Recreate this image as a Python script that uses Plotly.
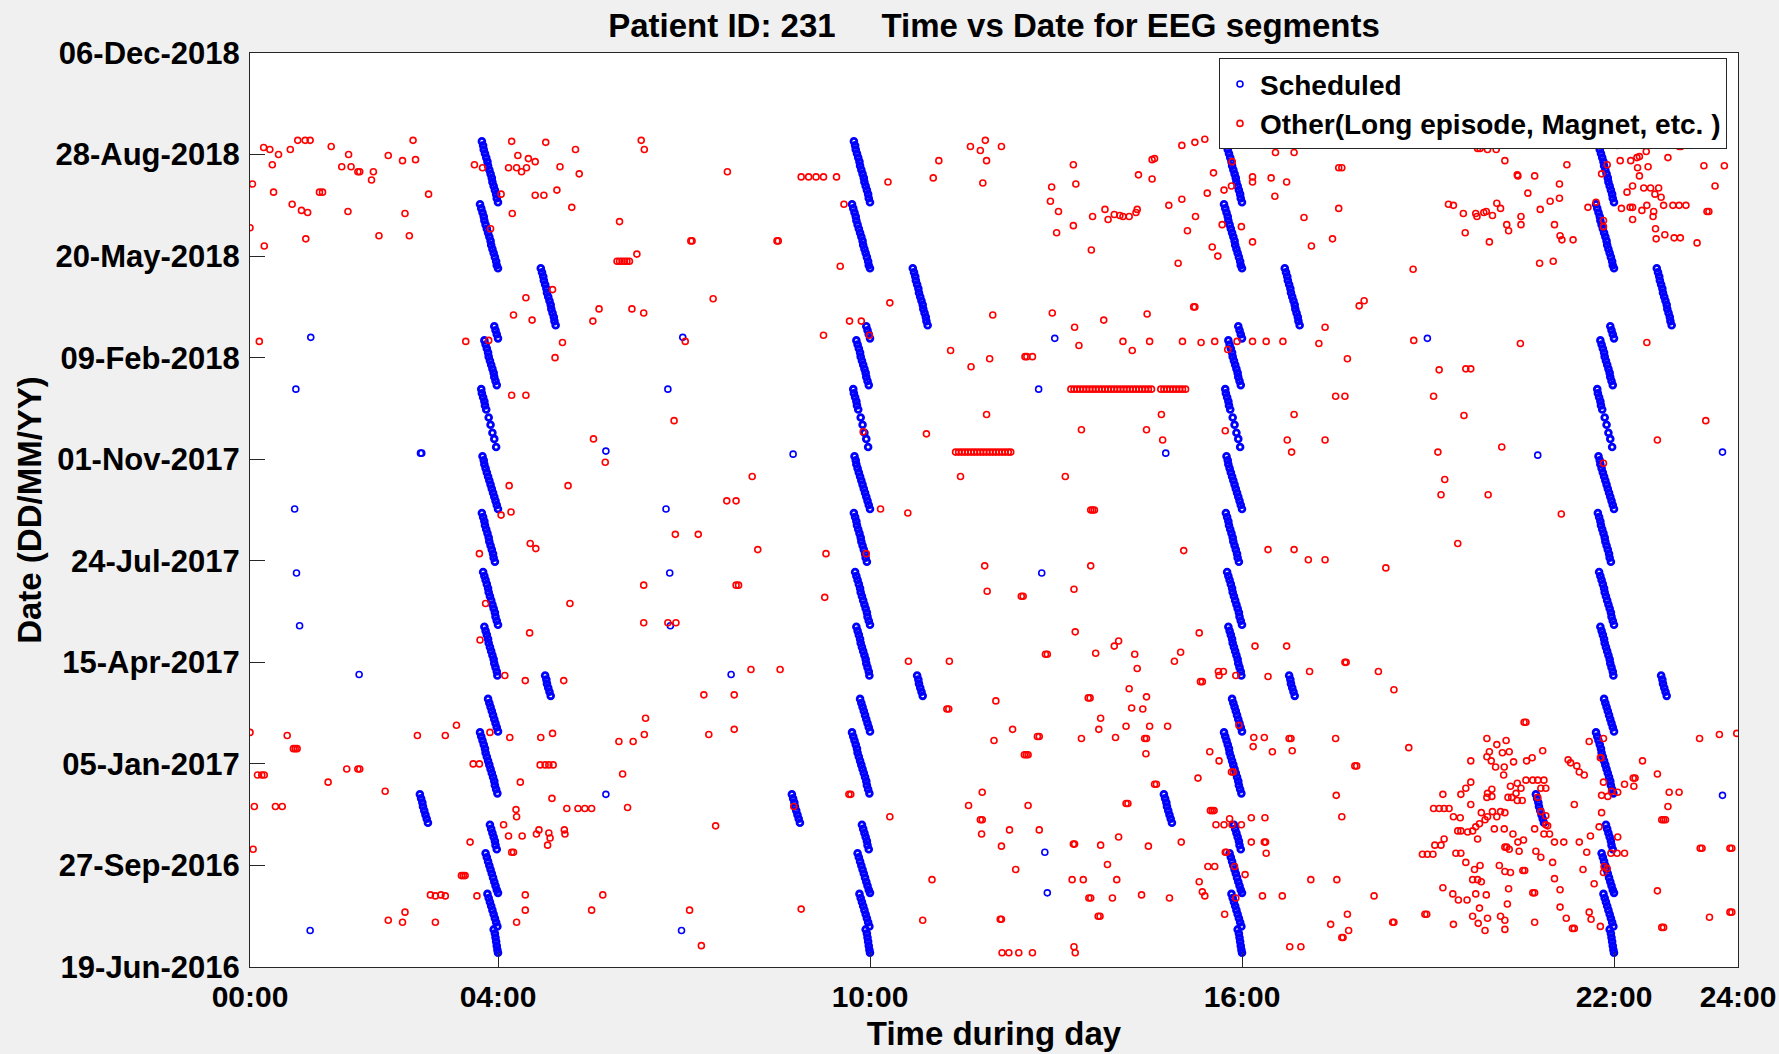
import numpy as np
import plotly.graph_objects as go

START_DATE = np.datetime64("2016-06-19")

# ---------------- Scheduled recordings (days since 19-Jun-2016, time of day in hours) ----------------
sched_day = [
    813, 809, 805, 801, 797, 793, 789, 785, 781, 777, 773, 769, 765, 761, 757, 753,
    751, 747, 743, 739, 735, 731, 727, 723, 719, 715, 711, 707, 703, 699, 695, 691, 688,
    688, 684, 680, 676, 672, 668, 664, 660, 656, 652, 648, 644, 640, 636, 632,
    631, 627, 623, 619,
    617, 613, 609, 605, 601, 597, 593, 589, 585, 581, 577, 573,
    569, 565, 561, 557, 553, 549, 541, 534, 526, 520, 512,
    503, 499, 495, 491, 487, 483, 479, 475, 471, 467, 463, 459, 455, 451,
    447, 443, 439, 435, 431, 427, 423, 419, 415, 411, 407, 403, 399,
    389, 385, 381, 377, 373, 369, 365, 361, 357, 353, 349, 345, 341, 337,
    335, 331, 327, 323, 319, 315, 311, 307, 303, 299, 295, 291, 287,
    287, 283, 279, 275, 271, 267,
    264, 260, 256, 252, 248, 244, 240, 236, 232,
    231, 227, 223, 219, 215, 211, 207, 203, 199, 195, 191, 187, 183, 179, 175, 171,
    170, 166, 162, 158, 154, 150, 146, 142,
    140, 136, 132, 128, 124, 120, 116,
    112, 108, 104, 100, 96, 92, 88, 84, 80, 76, 73,
    72, 68, 64, 60, 56, 52, 48, 44, 40,
    37, 33, 29, 25, 21, 17, 14,
]

sched_time_04 = [
    3.74, 3.76, 3.77, 3.79, 3.81, 3.83, 3.84, 3.86, 3.88, 3.90, 3.91, 3.93, 3.95, 3.97, 3.98, 4.00,
    3.71, 3.73, 3.75, 3.77, 3.78, 3.80, 3.82, 3.84, 3.86, 3.88, 3.89, 3.91, 3.93, 3.95, 3.97, 3.98, 4.00,
    4.69, 4.71, 4.73, 4.74, 4.76, 4.78, 4.79, 4.81, 4.83, 4.85, 4.86, 4.88, 4.90, 4.91, 4.93,
    3.94, 3.96, 3.98, 4.00,
    3.78, 3.80, 3.82, 3.84, 3.85, 3.87, 3.89, 3.91, 3.93, 3.94, 3.96, 3.98,
    3.73, 3.74, 3.76, 3.78, 3.79, 3.81, 3.85, 3.88, 3.91, 3.94, 3.97,
    3.75, 3.77, 3.78, 3.80, 3.82, 3.84, 3.86, 3.88, 3.90, 3.92, 3.94, 3.96, 3.98, 4.00,
    3.74, 3.76, 3.78, 3.79, 3.81, 3.83, 3.85, 3.86, 3.88, 3.90, 3.92, 3.93, 3.95,
    3.76, 3.78, 3.80, 3.82, 3.84, 3.85, 3.87, 3.89, 3.91, 3.93, 3.95, 3.96, 3.98, 4.00,
    3.78, 3.80, 3.82, 3.84, 3.85, 3.87, 3.89, 3.91, 3.93, 3.94, 3.96, 3.98, 3.99,
    4.76, 4.78, 4.79, 4.81, 4.83, 4.85,
    3.84, 3.86, 3.88, 3.90, 3.92, 3.94, 3.96, 3.98, 4.00,
    3.71, 3.73, 3.75, 3.77, 3.79, 3.80, 3.82, 3.84, 3.86, 3.88, 3.90, 3.92, 3.94, 3.95, 3.97, 3.99,
    2.74, 2.76, 2.78, 2.79, 2.81, 2.83, 2.85, 2.87,
    3.87, 3.89, 3.91, 3.93, 3.95, 3.96, 3.98,
    3.80, 3.82, 3.84, 3.86, 3.88, 3.90, 3.92, 3.94, 3.96, 3.98, 4.00,
    3.83, 3.85, 3.87, 3.89, 3.91, 3.93, 3.95, 3.97, 3.99,
    3.93, 3.95, 3.96, 3.97, 3.98, 3.99, 4.00,
]

sched_time_10 = [
    9.74, 9.76, 9.77, 9.79, 9.81, 9.83, 9.84, 9.86, 9.88, 9.90, 9.91, 9.93, 9.95, 9.97, 9.98, 10.00,
    9.71, 9.73, 9.75, 9.77, 9.78, 9.80, 9.82, 9.84, 9.86, 9.88, 9.89, 9.91, 9.93, 9.95, 9.97, 9.98, 10.00,
    10.69, 10.71, 10.73, 10.74, 10.76, 10.78, 10.79, 10.81, 10.83, 10.85, 10.86, 10.88, 10.90, 10.91, 10.93,
    9.94, 9.96, 9.98, 10.00,
    9.78, 9.80, 9.82, 9.84, 9.85, 9.87, 9.89, 9.91, 9.93, 9.94, 9.96, 9.98,
    9.73, 9.74, 9.76, 9.78, 9.79, 9.81, 9.85, 9.88, 9.91, 9.94, 9.97,
    9.75, 9.77, 9.78, 9.80, 9.82, 9.84, 9.86, 9.88, 9.90, 9.92, 9.94, 9.96, 9.98, 10.00,
    9.74, 9.76, 9.78, 9.79, 9.81, 9.83, 9.85, 9.86, 9.88, 9.90, 9.92, 9.93, 9.95,
    9.76, 9.78, 9.80, 9.82, 9.84, 9.85, 9.87, 9.89, 9.91, 9.93, 9.95, 9.96, 9.98, 10.00,
    9.78, 9.80, 9.82, 9.84, 9.85, 9.87, 9.89, 9.91, 9.93, 9.94, 9.96, 9.98, 9.99,
    10.76, 10.78, 10.79, 10.81, 10.83, 10.85,
    9.84, 9.86, 9.88, 9.90, 9.92, 9.94, 9.96, 9.98, 10.00,
    9.71, 9.73, 9.75, 9.77, 9.79, 9.80, 9.82, 9.84, 9.86, 9.88, 9.90, 9.92, 9.94, 9.95, 9.97, 9.99,
    8.74, 8.76, 8.78, 8.79, 8.81, 8.83, 8.85, 8.87,
    9.87, 9.89, 9.91, 9.93, 9.95, 9.96, 9.98,
    9.80, 9.82, 9.84, 9.86, 9.88, 9.90, 9.92, 9.94, 9.96, 9.98, 10.00,
    9.83, 9.85, 9.87, 9.89, 9.91, 9.93, 9.95, 9.97, 9.99,
    9.93, 9.95, 9.96, 9.97, 9.98, 9.99, 10.00,
]

sched_time_16 = [
    15.74, 15.76, 15.77, 15.79, 15.81, 15.83, 15.84, 15.86, 15.88, 15.90, 15.91, 15.93, 15.95, 15.97, 15.98, 16.00,
    15.71, 15.73, 15.75, 15.77, 15.78, 15.80, 15.82, 15.84, 15.86, 15.88, 15.89, 15.91, 15.93, 15.95, 15.97, 15.98, 16.00,
    16.69, 16.71, 16.73, 16.74, 16.76, 16.78, 16.79, 16.81, 16.83, 16.85, 16.86, 16.88, 16.90, 16.91, 16.93,
    15.94, 15.96, 15.98, 16.00,
    15.78, 15.80, 15.82, 15.84, 15.85, 15.87, 15.89, 15.91, 15.93, 15.94, 15.96, 15.98,
    15.73, 15.74, 15.76, 15.78, 15.79, 15.81, 15.85, 15.88, 15.91, 15.94, 15.97,
    15.75, 15.77, 15.78, 15.80, 15.82, 15.84, 15.86, 15.88, 15.90, 15.92, 15.94, 15.96, 15.98, 16.00,
    15.74, 15.76, 15.78, 15.79, 15.81, 15.83, 15.85, 15.86, 15.88, 15.90, 15.92, 15.93, 15.95,
    15.76, 15.78, 15.80, 15.82, 15.84, 15.85, 15.87, 15.89, 15.91, 15.93, 15.95, 15.96, 15.98, 16.00,
    15.78, 15.80, 15.82, 15.84, 15.85, 15.87, 15.89, 15.91, 15.93, 15.94, 15.96, 15.98, 15.99,
    16.76, 16.78, 16.79, 16.81, 16.83, 16.85,
    15.84, 15.86, 15.88, 15.90, 15.92, 15.94, 15.96, 15.98, 16.00,
    15.71, 15.73, 15.75, 15.77, 15.79, 15.80, 15.82, 15.84, 15.86, 15.88, 15.90, 15.92, 15.94, 15.95, 15.97, 15.99,
    14.74, 14.76, 14.78, 14.79, 14.81, 14.83, 14.85, 14.87,
    15.87, 15.89, 15.91, 15.93, 15.95, 15.96, 15.98,
    15.80, 15.82, 15.84, 15.86, 15.88, 15.90, 15.92, 15.94, 15.96, 15.98, 16.00,
    15.83, 15.85, 15.87, 15.89, 15.91, 15.93, 15.95, 15.97, 15.99,
    15.93, 15.95, 15.96, 15.97, 15.98, 15.99, 16.00,
]

sched_time_22 = [
    21.74, 21.76, 21.77, 21.79, 21.81, 21.83, 21.84, 21.86, 21.88, 21.90, 21.91, 21.93, 21.95, 21.97, 21.98, 22.00,
    21.71, 21.73, 21.75, 21.77, 21.78, 21.80, 21.82, 21.84, 21.86, 21.88, 21.89, 21.91, 21.93, 21.95, 21.97, 21.98, 22.00,
    22.69, 22.71, 22.73, 22.74, 22.76, 22.78, 22.79, 22.81, 22.83, 22.85, 22.86, 22.88, 22.90, 22.91, 22.93,
    21.94, 21.96, 21.98, 22.00,
    21.78, 21.80, 21.82, 21.84, 21.85, 21.87, 21.89, 21.91, 21.93, 21.94, 21.96, 21.98,
    21.73, 21.74, 21.76, 21.78, 21.79, 21.81, 21.85, 21.88, 21.91, 21.94, 21.97,
    21.75, 21.77, 21.78, 21.80, 21.82, 21.84, 21.86, 21.88, 21.90, 21.92, 21.94, 21.96, 21.98, 22.00,
    21.74, 21.76, 21.78, 21.79, 21.81, 21.83, 21.85, 21.86, 21.88, 21.90, 21.92, 21.93, 21.95,
    21.76, 21.78, 21.80, 21.82, 21.84, 21.85, 21.87, 21.89, 21.91, 21.93, 21.95, 21.96, 21.98, 22.00,
    21.78, 21.80, 21.82, 21.84, 21.85, 21.87, 21.89, 21.91, 21.93, 21.94, 21.96, 21.98, 21.99,
    22.76, 22.78, 22.79, 22.81, 22.83, 22.85,
    21.84, 21.86, 21.88, 21.90, 21.92, 21.94, 21.96, 21.98, 22.00,
    21.71, 21.73, 21.75, 21.77, 21.79, 21.80, 21.82, 21.84, 21.86, 21.88, 21.90, 21.92, 21.94, 21.95, 21.97, 21.99,
    20.74, 20.76, 20.78, 20.79, 20.81, 20.83, 20.85, 20.87,
    21.87, 21.89, 21.91, 21.93, 21.95, 21.96, 21.98,
    21.80, 21.82, 21.84, 21.86, 21.88, 21.90, 21.92, 21.94, 21.96, 21.98, 22.00,
    21.83, 21.85, 21.87, 21.89, 21.91, 21.93, 21.95, 21.97, 21.99,
    21.93, 21.95, 21.96, 21.97, 21.98, 21.99, 22.00,
]

# isolated scheduled recordings
sched_extra_time = [0.98, 6.98, 12.98, 18.99, 0.74, 6.74, 12.72, 2.75, 2.77, 8.76, 14.77, 20.77,
                    5.74, 23.75, 0.72, 6.71, 0.75, 6.77, 12.77, 0.80, 6.78, 1.76, 7.76,
                    0.97, 6.96, 5.74, 23.75, 12.82, 12.86]
sched_extra_day = [620, 620, 619, 619, 569, 569, 569, 506, 506, 505, 506, 504,
                   508, 507, 451, 451, 388, 388, 388, 336, 336, 288, 288,
                   36, 36, 170, 169, 113, 73]

# ---------------- Other recordings (long episode, magnet, ...) ----------------
other_time = [
    # 00:00 - 06:00, upper part
    0.22, 0.32, 0.46, 0.65, 0.77, 0.89, 0.97, 1.31, 1.59, 1.48, 1.63, 1.74, 1.77, 1.99, 1.96, 2.23, 2.46, 2.63, 2.67,
    0.04, 0.36, 0.38, 1.12, 1.17, 0.68, 0.83, 0.93, 1.58, 2.50, 2.88, 0.00, 0.23, 0.90, 2.08, 2.57,
    3.62, 3.75, 4.22, 4.32, 4.49, 4.60, 4.17, 4.30, 4.38, 4.46, 4.77, 5.00, 5.25, 5.31, 4.05, 4.60, 4.74, 4.95,
    4.23, 3.88, 5.19, 5.96, 4.88, 4.45, 4.25, 4.55, 5.63, 5.53, 0.15, 3.48, 3.85, 5.04, 4.92,
    # 06:00 - 12:00, upper part
    6.31, 6.36, 7.70, 8.89, 9.01, 9.13, 9.25, 9.46, 9.58, 10.29, 7.11, 7.13, 8.50, 8.52, 6.24,
    5.92, 5.96, 6.00, 6.04, 6.08, 6.12, 9.52, 7.47, 6.16, 6.35, 10.32, 9.67, 9.86, 9.25, 9.99, 7.02,
    11.30, 11.93, 11.62, 11.78, 11.86, 11.88, 11.11, 11.02, 11.82,
    # 12:00 - 18:00, upper part
    12.12, 13.28, 12.93, 13.32, 12.91, 13.04, 13.01, 13.28, 13.57, 13.59, 13.79, 13.84, 13.94, 14.03, 14.08,
    14.18, 14.29, 14.31, 14.33, 14.55, 14.59, 14.55, 15.03, 15.24, 15.40, 14.82, 15.03, 15.25, 15.12, 14.97,
    15.44, 15.54, 15.71, 15.83, 15.84, 15.68, 15.52, 15.61, 15.99, 16.17, 16.01, 16.06, 16.19, 16.65, 16.76,
    16.54, 16.84, 16.17, 16.17, 16.47, 16.72, 16.53, 17.00, 17.56, 17.61, 17.56, 17.12, 17.46, 17.97, 17.89,
    17.34, 17.24, 17.70, 11.98, 12.94, 13.30, 13.37, 13.77, 14.47, 14.08, 14.23, 14.51, 15.04, 15.22, 15.24,
    15.34, 15.56, 15.92, 15.77, 16.17, 16.39, 16.66, 12.50, 12.53, 12.62,
    # 18:00 - 24:00, upper part
    19.09, 19.80, 19.84, 19.96, 20.10, 20.49, 20.66, 20.24, 21.24, 20.44, 20.45, 20.72, 21.12, 20.61, 21.12,
    20.97, 20.81, 19.33, 19.41, 19.57, 19.77, 19.79, 19.90, 19.94, 20.04, 20.11, 20.17, 20.50, 20.50, 20.27,
    20.30, 19.60, 19.99, 21.04, 21.13, 21.16, 21.34, 20.80, 21.02, 18.76, 21.58, 21.71, 21.89, 21.80, 22.05,
    22.10, 22.27, 22.37, 22.41, 22.52, 22.38, 22.55, 22.41, 22.87, 23.05, 23.08, 23.45, 23.78, 23.63, 22.21,
    22.30, 22.48, 22.59, 22.72, 22.66, 22.76, 22.80, 22.95, 23.05, 23.16, 22.12, 22.26, 22.30, 22.45, 22.53,
    22.64, 22.63, 22.30, 21.83, 21.83, 22.67, 22.68, 22.82, 22.97, 23.07, 23.34, 23.50, 23.53, 18.77, 20.49, 22.53,
    # 00:00 - 06:00, middle part
    4.22, 4.45, 5.54, 5.73, 4.18, 5.13, 4.21, 4.05, 4.52, 4.61, 3.70, 3.80, 5.16, 4.51, 3.71,
    # 06:00 - 12:00, middle part
    6.84, 11.63, 11.88, 10.91, 9.89, 11.46, 8.10, 7.69, 7.84, 10.17, 10.61, 6.86, 7.23, 8.19, 9.29, 9.94,
    11.85, 11.89, 6.35, 7.84, 7.88, 9.27, 6.35, 6.74, 6.87, 10.62, 11.28,
    11.38, 11.43, 11.48, 11.53, 11.58, 11.63, 11.68, 11.73, 11.78, 11.83, 11.88, 11.93, 11.98, 12.03, 12.08,
    12.13, 12.18, 12.23, 12.27,
    # 12:00 - 18:00, middle part
    13.24, 13.29, 13.34, 13.39, 13.44, 13.49, 13.54, 13.59, 13.64, 13.69, 13.74, 13.79, 13.84, 13.89, 13.94,
    13.99, 14.04, 14.09, 14.14, 14.19, 14.24, 14.29, 14.34, 14.39, 14.44, 14.49, 14.54,
    14.69, 14.74, 14.79, 14.84, 14.89, 14.94, 14.99, 15.04, 15.09,
    14.70, 13.41, 14.46, 14.72, 15.73, 16.84, 17.51, 17.66, 16.73, 17.34, 16.80, 13.15, 13.56, 13.59, 13.62,
    15.06, 13.56, 13.29, 12.44, 12.47, 16.42, 16.84, 17.07, 17.34, 13.31, 15.31, 14.01, 13.94, 12.83, 12.86,
    13.64, 14.27, 15.01, 14.91, 16.21, 16.72, 17.66, 17.68,
    # 18:00 - 24:00, middle part
    19.18, 19.61, 19.69, 19.09, 19.58, 19.16, 20.19, 19.27, 19.21, 19.97, 21.15, 19.48, 18.32, 21.83, 22.70, 23.48,
    # 00:00 - 06:00, lower part
    0.00, 0.60, 0.70, 0.73, 0.76, 2.70, 3.15, 3.33, 3.87, 4.11, 4.44, 5.06, 4.19, 4.69, 4.88, 5.95,
    0.12, 0.19, 0.23, 1.56, 1.74, 1.77, 1.26, 2.18, 3.60, 3.70, 4.68, 4.76, 4.82, 4.89, 6.01, 4.36, 4.87,
    0.07, 0.41, 0.52, 4.29, 4.30, 5.11, 5.29, 5.40, 5.51, 4.09, 4.17, 4.39, 4.62, 4.66, 4.82, 4.84, 4.80,
    5.07, 5.08, 3.55, 4.22, 4.25, 0.05, 3.41, 3.44, 3.47, 2.91, 2.99, 3.08, 3.15, 3.66, 4.44, 4.44, 5.69,
    5.51, 2.50, 2.46, 2.23, 2.99, 4.30,
    # 06:00 - 12:00, lower part
    8.08, 8.55, 7.32, 7.81, 6.38, 6.36, 6.18, 7.40, 7.81, 6.09, 7.51, 8.77, 9.66, 9.69, 10.32, 11.24,
    11.27, 12.03, 12.00, 11.81, 11.59, 11.78, 11.81, 11.80, 11.00, 8.89, 7.09, 7.28, 10.85,
    # 12:00 - 18:00, lower part
    14.31, 15.62, 15.70, 15.63, 15.90, 15.33, 15.36, 16.42, 17.09, 13.52, 13.55, 14.18, 14.46, 14.22, 14.40,
    13.72, 12.30, 12.70, 12.73, 13.41, 13.69, 13.96, 14.13, 14.51, 14.80, 14.43, 14.46, 14.45, 12.49, 12.52,
    12.55, 14.59, 14.62, 15.29, 15.48, 15.63, 15.83, 15.86, 15.95, 16.19, 16.36, 16.18, 16.49, 16.76, 16.79,
    16.81, 17.51, 17.82, 17.85, 17.52, 17.61, 12.55, 14.13, 14.16, 15.49, 15.52, 15.55, 15.80, 15.58, 15.71,
    15.84, 15.99, 16.15, 16.37, 12.25, 12.73, 12.12, 13.28, 13.30, 13.72, 14.01, 14.49, 15.02, 16.15, 16.36,
    16.38, 15.73, 15.75, 16.39, 12.35, 13.83, 15.45, 15.56, 15.88, 16.05, 13.26, 13.44, 13.98, 15.31, 15.36,
    15.40, 15.90, 16.33, 16.65, 17.11, 17.53, 13.53, 13.56, 13.91, 14.38, 14.83, 12.10, 12.12, 13.68, 13.71,
    15.72, 17.70, 17.43, 17.72, 17.61, 17.63, 12.13, 12.24, 12.40, 12.62, 13.29, 13.31, 16.77, 16.95,
    # 18:00 - 24:00, lower part
    18.20, 18.45, 20.55, 20.58, 18.69, 18.13, 18.43, 18.45,
    19.95, 20.11, 20.26, 19.99, 20.20, 20.31, 20.38, 20.59, 20.68, 20.85, 19.69, 19.95, 20.02, 20.09, 20.23,
    20.22, 21.26, 21.30, 21.40, 21.44, 21.52, 21.60, 21.83, 21.78, 22.46, 22.70, 22.31, 22.34, 22.17, 22.32,
    21.83, 22.89, 23.05, 22.87, 22.77, 22.80, 22.83, 23.38, 23.70, 23.98,
    19.69, 19.61, 19.53, 19.24, 20.03, 19.96, 20.03, 19.95, 20.33, 20.44, 20.50, 20.58, 20.69, 20.77, 20.87,
    20.82, 20.90, 20.29, 20.35, 20.44, 20.52, 20.42, 19.69, 19.09, 19.18, 19.26, 19.34, 19.41, 19.52, 19.86,
    20.04, 20.17, 20.24, 20.11, 19.96, 19.92, 19.83, 19.77, 19.72, 19.48, 19.53, 19.64, 19.80, 19.26, 19.21,
    19.11, 20.07, 20.23, 20.37, 20.45, 20.54, 20.72, 20.87, 20.96, 20.90, 20.93, 20.77, 20.90, 20.82, 21.04,
    21.19, 21.44, 21.62, 21.36, 21.80, 21.76, 22.06, 18.91, 18.99, 19.08, 19.45, 19.53, 19.61, 19.75, 19.84,
    20.24, 20.27, 20.31, 20.47, 20.74, 20.82, 20.15, 20.24, 20.33, 20.53, 20.56, 21.01, 21.04, 21.50, 21.56,
    21.68, 21.95, 22.05, 22.17, 21.89, 21.83, 19.72, 19.80, 19.86, 19.24, 19.40, 19.49, 19.63, 19.77, 19.94,
    20.30, 20.28, 20.69, 20.72, 21.13, 21.13, 19.83, 19.72, 19.81, 19.92, 19.96, 20.17, 20.24, 19.41, 18.95,
    18.98, 20.24, 20.72, 21.23, 21.33, 21.36, 21.60, 21.63, 21.78, 22.70, 22.77, 22.80, 23.39, 23.42, 23.87,
    23.90, 23.54, 23.87, 23.90, 21.84, 21.79, 21.96, 21.90, 22.06, 21.80,
]

other_day = [
    # 00:00 - 06:00, upper part
    807, 805, 800, 805, 814, 814, 814, 808, 800, 788, 788, 783, 783, 783, 775, 799, 794, 814, 795,
    771, 790, 763, 763, 763, 751, 745, 743, 744, 742, 761, 728, 710, 717, 720, 720,
    790, 787, 813, 799, 796, 793, 787, 787, 783, 787, 812, 788, 805, 781, 761, 760, 760, 765,
    742, 727, 748, 734, 667, 659, 642, 637, 648, 636, 616, 616, 617, 615, 600,
    # 06:00 - 12:00, upper part
    814, 805, 783, 778, 778, 778, 778, 778, 751, 773, 715, 715, 715, 715, 702,
    695, 695, 695, 695, 695, 695, 690, 658, 648, 644, 654, 636, 636, 622, 622, 616,
    607, 599, 808, 804, 814, 794, 794, 777, 772,
    # 12:00 - 18:00, upper part
    808, 790, 768, 771, 754, 744, 723, 730, 706, 739, 746, 736, 741, 740, 739,
    739, 743, 746, 780, 795, 796, 776, 809, 812, 815, 750, 756, 739, 725, 693,
    762, 782, 765, 769, 793, 731, 709, 700, 729, 714, 815, 815, 815, 815, 815,
    802, 802, 778, 773, 777, 773, 759, 738, 787, 787, 747, 710, 717, 656, 651,
    630, 614, 599, 642, 644, 630, 612, 637, 643, 616, 607, 616, 616, 650, 650,
    615, 616, 616, 608, 616, 616, 616, 601, 601, 601,
    # 18:00 - 24:00, upper part
    811, 806, 806, 805, 805, 811, 811, 794, 790, 780, 779, 779, 771, 762, 757,
    754, 746, 751, 750, 742, 742, 739, 743, 744, 740, 752, 747, 739, 731, 731,
    725, 723, 714, 731, 720, 716, 716, 693, 695, 687, 748, 753, 790, 781, 809,
    794, 794, 797, 798, 803, 787, 788, 779, 797, 808, 808, 789, 789, 769, 763,
    769, 767, 767, 767, 761, 758, 750, 750, 750, 750, 747, 748, 748, 745, 750,
    744, 739, 736, 735, 729, 727, 717, 721, 718, 718, 713, 744, 744, 617, 614, 615,
    # 00:00 - 06:00, middle part
    563, 563, 520, 497, 474, 474, 448, 445, 417, 412, 407, 358, 358, 329, 322,
    # 06:00 - 12:00, middle part
    538, 591, 544, 525, 527, 483, 483, 459, 459, 451, 447, 426, 426, 411, 407, 407,
    395, 370, 376, 376, 376, 364, 339, 339, 339, 301, 301,
    507, 507, 507, 507, 507, 507, 507, 507, 507, 507, 507, 507, 507, 507, 507,
    507, 507, 507, 507,
    # 12:00 - 18:00, middle part
    569, 569, 569, 569, 569, 569, 569, 569, 569, 569, 569, 569, 569, 569, 569,
    569, 569, 569, 569, 569, 569, 569, 569, 569, 569, 569, 569,
    569, 569, 569, 569, 569, 569, 569, 569, 569,
    544, 529, 529, 519, 528, 544, 562, 562, 519, 519, 507, 483, 450, 450, 450,
    410, 395, 372, 365, 365, 411, 411, 401, 401, 330, 329, 321, 316, 308, 308,
    309, 308, 310, 301, 316, 316, 300, 300,
    # 18:00 - 24:00, middle part
    588, 589, 589, 562, 543, 507, 512, 480, 465, 465, 446, 417, 393, 496, 519, 538,
    # 00:00 - 06:00, lower part
    231, 228, 215, 215, 215, 228, 228, 238, 231, 287, 282, 282, 226, 226, 230, 222,
    189, 189, 189, 195, 195, 195, 182, 173, 200, 200, 199, 199, 199, 199, 190, 182, 166,
    158, 158, 158, 155, 148, 156, 156, 156, 156, 140, 129, 129, 131, 135, 132, 127, 120,
    135, 131, 123, 113, 113, 116, 90, 90, 90, 71, 70, 71, 70, 70, 71, 56, 71,
    56, 54, 44, 46, 44, 44,
    # 06:00 - 12:00, lower part
    293, 293, 268, 268, 245, 229, 222, 229, 234, 157, 139, 158, 170, 170, 148, 254,
    254, 262, 223, 172, 159, 145, 145, 131, 86, 57, 56, 21, 46,
    # 12:00 - 18:00, lower part
    294, 291, 291, 287, 287, 281, 281, 286, 291, 265, 265, 274, 266, 255, 254,
    245, 234, 227, 227, 225, 234, 226, 237, 237, 237, 225, 225, 210, 209, 209,
    209, 180, 180, 186, 212, 203, 192, 192, 238, 226, 226, 217, 212, 225, 225,
    213, 225, 198, 198, 169, 148, 159, 161, 161, 154, 154, 154, 146, 140, 140,
    140, 140, 147, 147, 135, 135, 119, 121, 121, 120, 128, 119, 123, 123, 123,
    123, 113, 113, 112, 96, 101, 99, 99, 99, 91, 86, 86, 86, 84, 74,
    70, 68, 70, 70, 86, 86, 68, 68, 68, 71, 68, 47, 47, 50, 50,
    52, 52, 42, 36, 29, 29, 14, 14, 14, 14, 20, 14, 20, 20,
    # 18:00 - 24:00, lower part
    291, 273, 241, 241, 216, 70, 44, 44,
    225, 219, 223, 212, 211, 212, 202, 203, 206, 213, 203, 207, 203, 197, 197,
    189, 204, 201, 198, 192, 189, 222, 225, 206, 203, 190, 186, 186, 180, 178,
    182, 172, 172, 158, 145, 145, 145, 225, 229, 230,
    182, 176, 170, 170, 175, 171, 168, 167, 178, 181, 176, 184, 184, 184, 184,
    176, 176, 167, 167, 164, 164, 171, 160, 156, 156, 156, 156, 148, 147, 152,
    153, 153, 152, 148, 148, 145, 141, 138, 134, 134, 134, 133, 126, 126, 120,
    120, 136, 136, 131, 123, 125, 136, 131, 131, 140, 139, 167, 149, 153, 123,
    123, 123, 129, 160, 152, 138, 128, 111, 111, 111, 112, 112, 103, 96, 100,
    118, 118, 116, 114, 114, 108, 100, 94, 93, 95, 95, 103, 87, 96, 113,
    82, 112, 112, 112, 97, 93, 86, 86, 84, 78, 72, 66, 66, 72, 71,
    77, 62, 73, 73, 76, 59, 58, 50, 43, 36, 48, 50, 46, 42, 52,
    52, 37, 44, 48, 38, 38, 54, 47, 40, 75, 39, 39, 117, 117, 117,
    117, 49, 54, 54, 99, 206, 173, 168, 172, 169,
]

# ---------------- axes ----------------
y_tick_days = [0, 100, 200, 300, 400, 500, 600, 700, 800, 900]
x_tick_hours = [0, 4, 10, 16, 22, 24]
x_tick_text = ["00:00", "04:00", "10:00", "16:00", "22:00", "24:00"]


def to_dates(days):
    return START_DATE + np.array(days, dtype="int64").astype("timedelta64[D]")


def pair(times, days):
    n = min(len(times), len(days))
    return list(times[:n]), list(days[:n])


streak_x, streak_y = [], []
for col in (sched_time_04, sched_time_10, sched_time_16, sched_time_22):
    t, d = pair(col, sched_day)
    streak_x += t
    streak_y += d
ex, ey = pair(sched_extra_time, sched_extra_day)
ox, oy = pair(other_time, other_day)

FONT = "Liberation Sans, Arial, Helvetica, sans-serif"
AX = "#262626"
BLUE = "#0000ff"
RED = "#ff0000"

fig = go.Figure()
# legend entry carried by the isolated scheduled recordings
fig.add_trace(go.Scatter(
    x=ex, y=to_dates(ey), mode="markers", name="Scheduled", legendgroup="sched",
    marker=dict(symbol="circle-open", size=6, color=BLUE, line=dict(width=1.6, color=BLUE)),
))
# daily scheduled recordings (dense streaks)
fig.add_trace(go.Scatter(
    x=streak_x, y=to_dates(streak_y), mode="markers", name="Scheduled", legendgroup="sched",
    showlegend=False,
    marker=dict(symbol="circle-open", size=5.8, color=BLUE, line=dict(width=2.8, color=BLUE)),
))
fig.add_trace(go.Scatter(
    x=ox, y=to_dates(oy), mode="markers", name="Other(Long episode, Magnet, etc. )",
    marker=dict(symbol="circle-open", size=6, color=RED, line=dict(width=1.6, color=RED)),
))

fig.update_layout(
    template="none",
    width=1779, height=1054,
    margin=dict(l=250, r=41, t=53, b=87, pad=0),
    paper_bgcolor="#f0f0f0",
    plot_bgcolor="#ffffff",
    font=dict(family=FONT, color="#000000", size=30),
    title=dict(
        text="Patient ID: 231\u00a0\u00a0\u00a0\u00a0 Time vs Date for EEG segments",
        x=0.5, xref="paper", xanchor="center",
        y=1 - 25 / 1054, yref="container", yanchor="middle",
        font=dict(family=FONT, size=33, color="#000000", weight="bold"),
    ),
    showlegend=True,
    legend=dict(
        x=0.9926, y=0.9942, xanchor="right", yanchor="top",
        bgcolor="#ffffff", bordercolor=AX, borderwidth=1,
        font=dict(family=FONT, size=28, color="#000000", weight="bold"),
        tracegroupgap=0,
    ),
    xaxis=dict(
        range=[0, 24], tickmode="array", tickvals=x_tick_hours, ticktext=x_tick_text,
        ticks="inside", ticklen=15, tickwidth=1, tickcolor=AX,
        showline=True, linecolor=AX, linewidth=1, mirror=True,
        showgrid=False, zeroline=False, automargin=False,
        tickfont=dict(family=FONT, size=30, color="#000000", weight="bold"),
        ticklabelstandoff=3,
        title=dict(text="Time during day", standoff=9,
                   font=dict(family=FONT, size=33, color="#000000", weight="bold")),
    ),
    yaxis=dict(
        type="date", range=[to_dates([0])[0], to_dates([900])[0]],
        tickmode="array", tickvals=to_dates(y_tick_days), tickformat="%d-%b-%Y",
        ticks="inside", ticklen=15, tickwidth=1, tickcolor=AX,
        showline=True, linecolor=AX, linewidth=1, mirror=True,
        showgrid=False, zeroline=False, automargin=False,
        tickfont=dict(family=FONT, size=31, color="#000000", weight="bold"),
        ticklabelstandoff=3,
        title=dict(text="Date (DD/MM/YY)", standoff=3,
                   font=dict(family=FONT, size=33, color="#000000", weight="bold")),
    ),
)

fig.write_html("out.html")
